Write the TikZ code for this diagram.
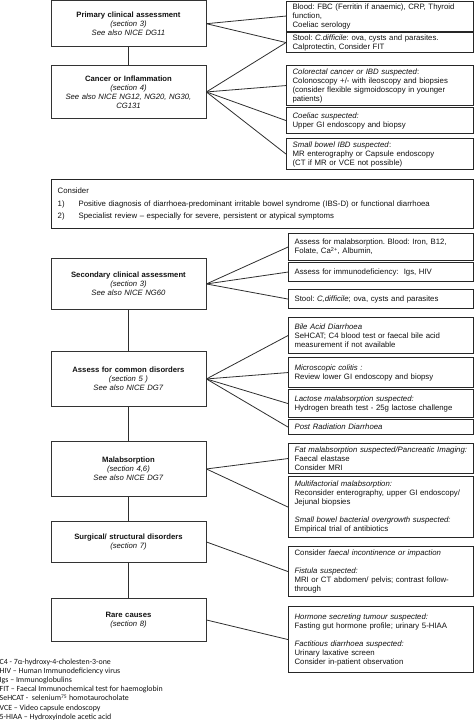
\documentclass[tikz,border=0pt]{standalone}
\usepackage{fontspec}
\setmainfont{Liberation Sans}
\newfontfamily\legendfont{Carlito}
\definecolor{lboxc}{HTML}{333333}
\definecolor{rboxc}{HTML}{262626}
\definecolor{connc}{HTML}{2E2E2E}
\definecolor{txtc}{HTML}{111111}
\tikzset{
  lbox/.style={draw=lboxc, line width=0.9pt, text width=145pt, inner xsep=5pt, inner ysep=0pt,
    align=center, anchor=north west, text=txtc, font=\fontsize{7.7}{9}\selectfont},
  rboxa/.style={draw=rboxc, line width=1.1pt, text width=174.5pt, inner xsep=6pt, inner ysep=0pt,
    align=left, anchor=north west, text=txtc, font=\fontsize{7.8}{9}\selectfont},
  rboxb/.style={draw=rboxc, line width=1.1pt, text width=172.5pt, inner xsep=6pt, inner ysep=0pt,
    align=left, anchor=north west, text=txtc, font=\fontsize{7.8}{9}\selectfont},
  conn/.style={draw=connc, line width=0.8pt},
  legendtxt/.style={align=left, anchor=north west, inner sep=0pt, text=txtc,
    font=\legendfont\fontsize{7.9}{9.2}\selectfont}
}
\begin{document}
\frenchspacing
\begin{tikzpicture}[x=1pt,y=-1pt]
\useasboundingbox (0,0) rectangle (474,720);

% ---- section 1
\node[lbox, minimum height=45.5pt] (prim) at (50.5,0.5)
  {\textbf{Primary clinical assessment}\\\textit{(section 3)}\\\textit{See also NICE DG11}};
\node[lbox, minimum height=53pt] (canc) at (50.5,65)
  {\textbf{Cancer or Inflammation}\\\textit{(section 4)}\\\textit{See also NICE NG12, NG20, NG30,}\\\textit{CG131}};

\node[rboxa, minimum height=30pt] (blood) at (286,0.5)
  {\mbox{Blood: FBC (Ferritin if anaemic), CRP, Thyroid}\\function,\\Coeliac serology};
\node[rboxa, minimum height=20pt] (stoola) at (286,32)
  {Stool: \textit{C.difficile}: ova, cysts and parasites.\\Calprotectin, Consider FIT};
\node[rboxa, minimum height=40pt] (colo) at (286,65)
  {\textit{Colorectal cancer or IBD suspected}:\\\mbox{Colonoscopy +/- with ileoscopy and biopsies}\\\mbox{(consider flexible sigmoidoscopy in younger}\\patients)};
\node[rboxa, minimum height=26pt] (coel) at (286,107)
  {\textit{Coeliac suspected:}\\Upper GI endoscopy and biopsy};
\node[rboxa, minimum height=31pt] (smallb) at (286,138)
  {\textit{Small bowel IBD suspected}:\\MR enterography or Capsule endoscopy\\(CT if MR or VCE not possible)};

\draw[conn] (prim.south) -- (canc.north);
\draw[conn] (prim.east) -- (blood.west);
\draw[conn] (prim.east) -- (stoola.west);
\draw[conn] (canc.east) -- (stoola.west);
\draw[conn] (canc.east) -- (colo.west);
\draw[conn] (canc.east) -- (coel.west);
\draw[conn] (canc.east) -- (smallb.west);

% ---- consider
\node[draw=rboxc, line width=1.4pt, text width=409.5pt, inner xsep=6pt, inner ysep=0pt,
  minimum height=49pt, align=left, anchor=north west, text=txtc,
  font=\fontsize{7.8}{9}\selectfont] (consider) at (51,179)
  {Consider\\[3.5pt]\makebox[21pt][l]{1)}Positive diagnosis of diarrhoea-predominant irritable bowel syndrome (IBS-D) or functional diarrhoea\\[3.5pt]\makebox[21pt][l]{2)}Specialist review -- especially for severe, persistent or atypical symptoms};

% ---- section 2
\node[lbox, minimum height=51pt] (sec) at (50.5,258)
  {\textbf{Secondary clinical assessment}\\\textit{(section 3)}\\\textit{See also NICE NG60}};
\node[rboxb, minimum height=27pt] (malb) at (288,233)
  {\mbox{Assess for malabsorption. Blood: Iron, B12,}\\Folate, Ca\textsuperscript{2+}, Albumin,};
\node[rboxb, minimum height=19pt] (immu) at (288,262)
  {Assess for immunodeficiency:\ \ Igs, HIV};
\node[rboxb, minimum height=19pt] (stoolb) at (288,289)
  {Stool: \textit{C,difficile}; ova, cysts and parasites};

\node[lbox, minimum height=55pt] (assess) at (50.5,351)
  {\textbf{Assess for common disorders}\\\textit{(section 5 )}\\\textit{See also NICE DG7}};
\node[rboxb, minimum height=36pt] (bile) at (288,317)
  {\textit{Bile Acid Diarrhoea}\\\mbox{SeHCAT; C4 blood test or faecal bile acid}\\measurement if not available};
\node[rboxb, minimum height=30pt] (micro) at (288,357)
  {\textit{Microscopic colitis :}\\Review lower GI endoscopy and biopsy};
\node[rboxb, minimum height=28pt] (lact) at (288,389)
  {\textit{Lactose malabsorption suspected:}\\\mbox{Hydrogen breath test - 25g lactose challenge}};
\node[rboxb, minimum height=15pt] (postr) at (288,419)
  {\textit{Post Radiation Diarrhoea}};

\node[lbox, minimum height=55pt] (malab) at (50.5,441)
  {\textbf{Malabsorption}\\\textit{(section 4,6)}\\\textit{See also NICE DG7}};
\node[rboxb, minimum height=30pt] (fat) at (288,443)
  {\mbox{\textit{Fat malabsorption suspected/Pancreatic Imaging:}}\\Faecal elastase\\Consider MRI};
\node[rboxb, minimum height=61pt] (multi) at (288,476)
  {\textit{Multifactorial malabsorption:}\\\mbox{Reconsider enterography, upper GI endoscopy/}\\Jejunal biopsies\\[9pt]\mbox{\textit{Small bowel bacterial overgrowth suspected:}}\\Empirical trial of antibiotics};

\node[lbox, minimum height=41pt] (surg) at (50.5,521)
  {\textbf{Surgical/ structural disorders}\\\textit{(section 7)}};
\node[rboxb, minimum height=50pt] (faecal) at (288,546)
  {Consider \textit{faecal incontinence or impaction}\\[9pt]\textit{Fistula suspected:}\\\mbox{MRI or CT abdomen/ pelvis; contrast follow-}\\through};

\node[lbox, minimum height=43pt] (rare) at (50.5,598)
  {\textbf{Rare causes}\\\textit{(section 8)}};
\node[rboxb, minimum height=66pt] (hormone) at (288,606)
  {\textit{Hormone secreting tumour suspected:}\\\mbox{Fasting gut hormone profile; urinary 5-HIAA}\\[9pt]\textit{Factitious diarrhoea suspected:}\\Urinary laxative screen\\Consider in-patient observation};

\draw[conn] (sec.south) -- (assess.north);
\draw[conn] (assess.south) -- (malab.north);
\draw[conn] (malab.south) -- (surg.north);
\draw[conn] (surg.south) -- (rare.north);

\draw[conn] (sec.east) -- (malb.west);
\draw[conn] (sec.east) -- (immu.west);
\draw[conn] (sec.east) -- (stoolb.west);
\draw[conn] (assess.east) -- (bile.west);
\draw[conn] (assess.east) -- (micro.west);
\draw[conn] (assess.east) -- (lact.west);
\draw[conn] (assess.east) -- (postr.west);
\draw[conn] (malab.east) -- (fat.west);
\draw[conn] (malab.east) -- (multi.west);
\draw[conn] (surg.east) -- (faecal.west);
\draw[conn] (rare.east) -- (hormone.west);

% ---- legend
\node[legendtxt] (legend) at (-0.5,658.5)
  {C4 - 7α-hydroxy-4-cholesten-3-one\\
   HIV – Human Immunodeficiency virus\\
   Igs – Immunoglobulins\\
   FIT – Faecal Immunochemical test for haemoglobin\\
   SeHCAT -\ \ selenium\textsuperscript{75} homotaurocholate\\
   VCE – Video capsule endoscopy\\
   5-HIAA – Hydroxyindole acetic acid};
\end{tikzpicture}
\end{document}
